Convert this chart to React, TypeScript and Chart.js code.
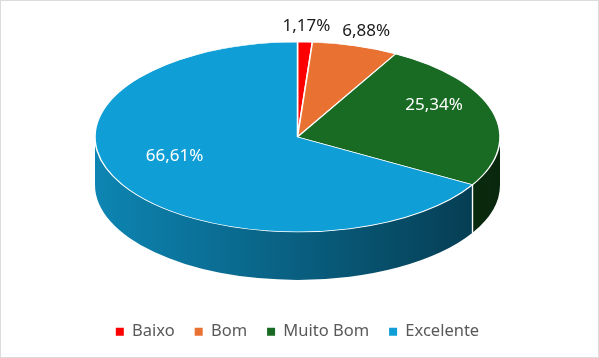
import React, { useEffect, useRef } from "react";
import { Chart, registerables } from "chart.js";

Chart.register(...registerables);

const categories = ["Baixo", "Bom", "Muito Bom", "Excelente"];
const values = [1.17, 6.88, 25.34, 66.61];
const valueLabels = ["1,17%", "6,88%", "25,34%", "66,61%"];
const colors = ["#FF0000", "#E97132", "#196B24", "#0F9ED5"];
const labelInside = [false, false, true, true];

const FONT = "'Noto Sans', 'Liberation Sans', sans-serif";
const TILT = 0.469; // ry / rx
const DEPTH = 0.237; // depth / rx

function shade(hex: string, f: number): string {
  const n = parseInt(hex.slice(1), 16);
  const r = Math.round(((n >> 16) & 255) * f);
  const g = Math.round(((n >> 8) & 255) * f);
  const b = Math.round((n & 255) * f);
  return `rgb(${r},${g},${b})`;
}

function geom(chart: any) {
  const a = chart.chartArea;
  const w = a.right - a.left;
  const rx = w / 2;
  const ry = rx * TILT;
  const depth = rx * DEPTH;
  return { cx: (a.left + a.right) / 2, cy: a.top + ry, rx, ry, depth };
}

const pie3d = {
  id: "pie3d",
  beforeDatasetsDraw(chart: any) {
    const ctx = chart.ctx as CanvasRenderingContext2D;
    const g = geom(chart);
    const meta = chart.getDatasetMeta(0);
    meta.data.forEach((arc: any, i: number) => {
      const s = Math.max(arc.startAngle, 0);
      const e = Math.min(arc.endAngle, Math.PI);
      if (e <= s) return;
      const grad = ctx.createLinearGradient(g.cx - g.rx, 0, g.cx + g.rx, 0);
      grad.addColorStop(0, shade(colors[i], 0.84));
      grad.addColorStop(1, shade(colors[i], 0.36));
      ctx.save();
      ctx.beginPath();
      ctx.ellipse(g.cx, g.cy, g.rx, g.ry, 0, s, e, false);
      ctx.lineTo(g.cx + g.rx * Math.cos(e), g.cy + g.ry * Math.sin(e) + g.depth);
      ctx.ellipse(g.cx, g.cy + g.depth, g.rx, g.ry, 0, e, s, true);
      ctx.closePath();
      ctx.fillStyle = grad;
      ctx.fill();
      ctx.restore();
    });
    meta.data.forEach((arc: any) => {
      [arc.startAngle, arc.endAngle].forEach((ang: number) => {
        if (ang > 0.001 && ang < Math.PI - 0.001) {
          const x = g.cx + g.rx * Math.cos(ang);
          const y = g.cy + g.ry * Math.sin(ang);
          ctx.save();
          ctx.strokeStyle = "#ffffff";
          ctx.lineWidth = 1.2;
          ctx.beginPath();
          ctx.moveTo(x, y);
          ctx.lineTo(x, y + g.depth);
          ctx.stroke();
          ctx.restore();
        }
      });
    });
    const a0 = meta.data[0];
    const R = a0.outerRadius;
    ctx.save();
    ctx.translate(g.cx, g.cy);
    ctx.scale(g.rx / R, g.ry / R);
    ctx.translate(-a0.x, -a0.y);
  },
  afterDatasetsDraw(chart: any) {
    const ctx = chart.ctx as CanvasRenderingContext2D;
    ctx.restore();
    const g = geom(chart);
    const meta = chart.getDatasetMeta(0);
    const size = 17;
    ctx.save();
    ctx.font = `${size}px ${FONT}`;
    ctx.textAlign = "center";
    ctx.textBaseline = "middle";
    meta.data.forEach((arc: any, i: number) => {
      const mid = (arc.startAngle + arc.endAngle) / 2;
      const c = Math.cos(mid);
      const s = Math.sin(mid);
      const text = valueLabels[i];
      let x: number;
      let y: number;
      if (labelInside[i]) {
        const f = 0.7;
        x = g.cx + g.rx * f * c;
        y = g.cy - g.ry * 0.15 + g.ry * f * s;
        ctx.fillStyle = "#ffffff";
      } else {
        const w = ctx.measureText(text).width;
        x = g.cx + g.rx * c + c * (w / 2 + 14);
        y = g.cy + g.ry * s + s * (size / 2 + 7);
        ctx.fillStyle = "#1a1a1a";
      }
      ctx.fillText(text, x, y);
    });
    ctx.restore();
  },
};

export default function App() {
  const ref = useRef<HTMLCanvasElement>(null);
  useEffect(() => {
    document.body.style.margin = "0";
    const chart = new Chart(ref.current!, {
      type: "pie",
      data: {
        labels: categories,
        datasets: [
          {
            data: values,
            backgroundColor: colors,
            borderColor: "#ffffff",
            borderWidth: 1,
            clip: false as any,
          } as any,
        ],
      },
      options: {
        animation: false,
        responsive: true,
        maintainAspectRatio: false,
        events: [],
        layout: { padding: { left: 94, right: 98, top: 41, bottom: 7 } },
        plugins: {
          tooltip: { enabled: false },
          legend: {
            position: "bottom",
            labels: {
              usePointStyle: true,
              pointStyle: "rect",
              boxWidth: 8,
              boxHeight: 8,
              padding: 20,
              color: "#595959",
              font: { size: 16.5, family: FONT },
              generateLabels: (c: any) =>
                (Chart as any).overrides.pie.plugins.legend.labels
                  .generateLabels(c)
                  .map((l: any) => ({ ...l, lineWidth: 0, strokeStyle: "rgba(0,0,0,0)" })),
            },
          },
        },
      },
      plugins: [pie3d],
    });
    return () => chart.destroy();
  }, []);
  return (
    <div
      style={{
        width: 599,
        height: 358,
        boxSizing: "border-box",
        border: "1px solid #dcdcdc",
        background: "#ffffff",
        position: "relative",
      }}
    >
      <canvas ref={ref} />
    </div>
  );
}
